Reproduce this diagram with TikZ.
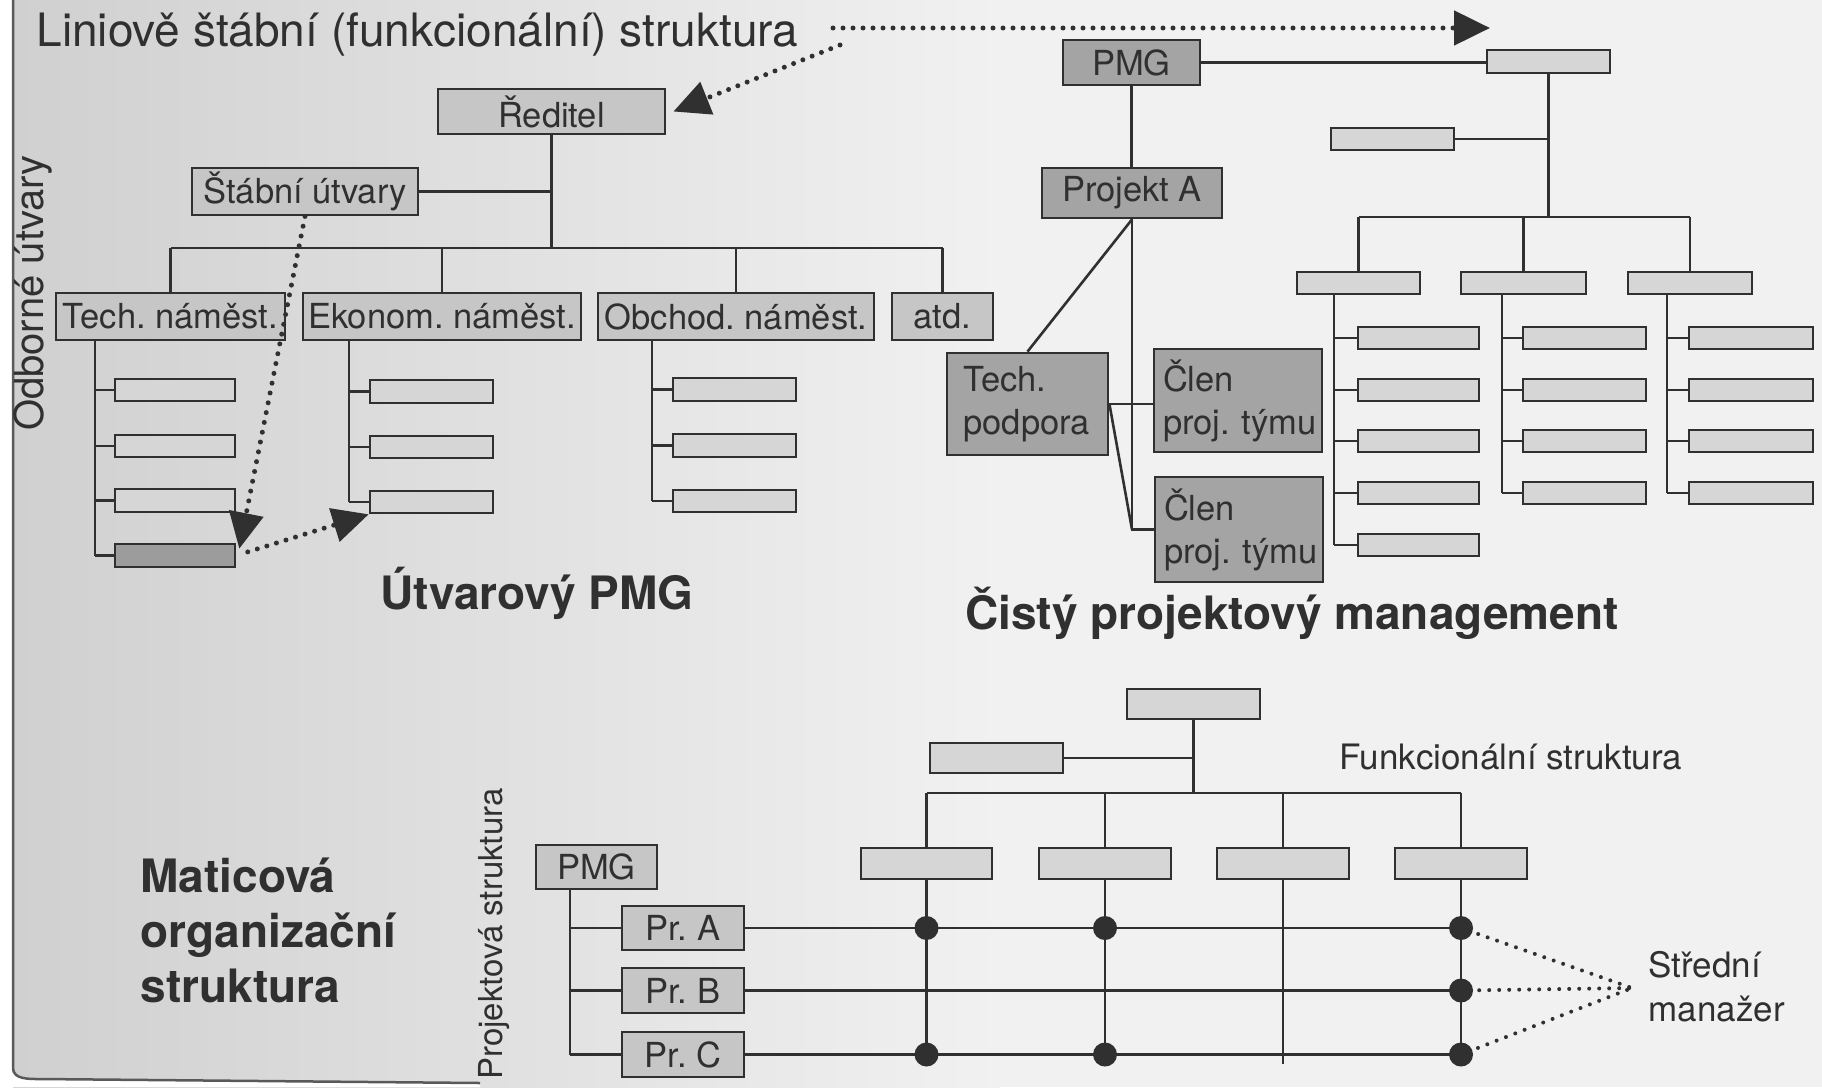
\documentclass[tikz,border=0pt]{standalone}
\usepackage{fontspec}
\setmainfont{TeX Gyre Heros}
\usetikzlibrary{arrows.meta}
\frenchspacing

\definecolor{ink}{HTML}{303030}
\definecolor{boxA}{HTML}{C6C6C6}
\definecolor{boxB}{HTML}{A4A4A4}
\definecolor{boxC}{HTML}{D6D6D6}
\definecolor{boxD}{HTML}{9C9C9C}
\definecolor{paperL}{HTML}{D0D0D0}
\definecolor{paperR}{HTML}{F1F1F1}

% box placed by its corners: style, name, x1, y1, x2, y2, text
\newcommand\putbox[7]{%
  \node[#1, minimum width={(#5)-(#3)}, minimum height={(#6)-(#4)}]
    (#2) at ({((#3)+(#5))/2},{((#4)+(#6))/2}) {#7};}

\tikzset{
  conn/.style={draw=ink, line width=2.6pt},
  boxbase/.style={draw=ink, line width=2.8pt, inner sep=0pt, text=ink,
    font=\fontsize{34.5}{43}\selectfont},
  lightbox/.style={boxbase, fill=boxA},
  darkbox/.style={boxbase, fill=boxB},
  blankbox/.style={boxbase, fill=boxC, line width=2.6pt},
  mdot/.style={circle, fill=ink, inner sep=0pt, minimum size=24pt},
  dotline/.style={draw=ink, line width=5pt, line cap=round, dash pattern=on 0pt off 10pt},
  dotarrow/.style={dotline, -{Triangle[length=36pt,width=34pt]}},
  heading/.style={text=ink, font=\bfseries\fontsize{46}{55}\selectfont},
  caption/.style={text=ink, font=\fontsize{46}{55}\selectfont},
  label/.style={text=ink, font=\fontsize{35}{44}\selectfont},
}

\begin{document}
\begin{tikzpicture}[x=1pt, y=-1pt]
% paper
\useasboundingbox (0,0) rectangle (1822,1087);
\fill[white] (0,0) rectangle (1822,1087);
\shade[left color=paperL, right color=paperR] (13,0) rectangle (1000,1087);
\fill[paperR] (1000,0) rectangle (1822,1087);
\fill[white] (0,1087) -- (0,0) -- (13,0) -- (13,1068) to[out=-90,in=180] (40,1079) -- (480,1083) -- (480,1087) -- cycle;
\draw[gray!70!black, line width=2.5pt] (13,0) -- (13,1068) to[out=-90,in=180] (40,1079) -- (480,1083);

% ---------- line and staff structure ----------
\node[caption, anchor=base west] (title) at (33,46) {Liniově štábní (funkcionální) struktura};
\node[caption, font=\fontsize{40}{48}\selectfont, rotate=90] (odb) at (33,293) {Odborné útvary};

\putbox{lightbox}{red}{438}{89}{665}{134}{Ředitel}
\putbox{lightbox}{stab}{192}{168}{418}{215}{Štábní útvary}
\putbox{lightbox}{tech}{56}{293}{285}{340}{Tech. náměst.}
\putbox{lightbox}{ekon}{303}{293}{581}{340}{Ekonom. náměst.}
\putbox{lightbox}{obch}{598}{293}{874}{340}{Obchod. náměst.}
\putbox{lightbox}{atd}{892}{293}{993}{340}{atd.}

\putbox{blankbox}{t1}{115}{379}{235}{401}{}
\putbox{blankbox}{t2}{115}{435}{235}{457}{}
\putbox{blankbox}{t3}{115}{489}{235}{512}{}
\putbox{blankbox, fill=boxD}{t4}{115}{544}{235}{567}{}
\putbox{blankbox}{e1}{370}{380}{493}{403}{}
\putbox{blankbox}{e2}{370}{436}{493}{458}{}
\putbox{blankbox}{e3}{370}{491}{493}{513}{}
\putbox{blankbox}{o1}{673}{378}{796}{401}{}
\putbox{blankbox}{o2}{673}{434}{796}{457}{}
\putbox{blankbox}{o3}{673}{490}{796}{512}{}

\coordinate (bus1) at (0,248);
\draw[conn] (red.south) -- (red.south |- bus1);
\draw[conn] (stab.east) -- (stab.east -| red.south);
\draw[conn] (tech.north |- bus1) -- (atd.north |- bus1);
\foreach \n in {tech,ekon,obch,atd} \draw[conn] (\n.north) -- (\n.north |- bus1);

\coordinate (tx) at (95,0);
\coordinate (ex) at (349,0);
\coordinate (ox) at (652,0);
\draw[conn] (tx |- tech.south) -- (tx |- t4.west);
\draw[conn] (ex |- ekon.south) -- (ex |- e3.west);
\draw[conn] (ox |- obch.south) -- (ox |- o3.west);
\foreach \n in {t1,t2,t3,t4} \draw[conn] (tx |- \n.west) -- (\n.west);
\foreach \n in {e1,e2,e3} \draw[conn] (ex |- \n.west) -- (\n.west);
\foreach \n in {o1,o2,o3} \draw[conn] (ox |- \n.west) -- (\n.west);

\node[heading] (utv) at (537,593) {Útvarový PMG};

% dotted pointers
\coordinate (a1s) at (833,28);
\coordinate (a1e) at (1490,28);
\coordinate (a2s) at (840,45);
\draw[dotarrow] (a1s) -- (a1e);
\draw[dotarrow] (a2s) -- ([xshift=7pt]red.east);
\draw[dotarrow] (stab.south) -- ([xshift=3pt,yshift=-6pt]t4.north east);
\draw[dotarrow, shorten <=12pt] (t4.east) -- (e3.south west);

% ---------- pure project management ----------
\putbox{darkbox}{pmg}{1063}{40}{1200}{85}{PMG}
\putbox{darkbox}{prA}{1042}{168}{1222}{218}{Projekt A}
\putbox{darkbox, align=left, text width=128pt}{tp}{947}{353}{1108}{455}{Tech.\\podpora}
\putbox{darkbox, align=left, text width=150pt}{cl1}{1154}{349}{1322}{452}{Člen\\proj.~týmu}
\putbox{darkbox, align=left, text width=150pt}{cl2}{1155}{477}{1323}{582}{Člen\\proj.~týmu}

\putbox{blankbox}{f0}{1487}{50}{1610}{73}{}
\putbox{blankbox}{fs}{1331}{128}{1454}{150}{}
\putbox{blankbox}{fa}{1297}{272}{1420}{294}{}
\putbox{blankbox}{fb}{1461}{272}{1586}{294}{}
\putbox{blankbox}{fc}{1628}{272}{1752}{294}{}
\foreach \r/\y in {1/338,2/390,3/441,4/493} {
  \putbox{blankbox}{la\r}{1358}{\y-11}{1479}{\y+11}{}
  \putbox{blankbox}{lb\r}{1523}{\y-11}{1646}{\y+11}{}
  \putbox{blankbox}{lc\r}{1689}{\y-11}{1813}{\y+11}{}
}
\putbox{blankbox}{la5}{1358}{534}{1479}{556}{}

\draw[conn] (pmg.east) -- (pmg.east -| f0.west);
\coordinate (bus2) at (0,217);
\draw[conn] (f0.south) -- (f0.south |- bus2);
\draw[conn] (fs.east) -- (fs.east -| f0.south);
\draw[conn] (fa.north |- bus2) -- (fc.north |- bus2);
\foreach \n in {fa,fb,fc} \draw[conn] (\n.north) -- (\n.north |- bus2);

\coordinate (ca) at (1334,0);
\coordinate (cb) at (1502,0);
\coordinate (cc) at (1667,0);
\draw[conn] (ca |- fa.south) -- (ca |- la5.west);
\draw[conn] (cb |- fb.south) -- (cb |- lb4.west);
\draw[conn] (cc |- fc.south) -- (cc |- lc4.west);
\foreach \r in {1,...,5} \draw[conn] (ca |- la\r.west) -- (la\r.west);
\foreach \r in {1,...,4} {
  \draw[conn] (cb |- lb\r.west) -- (lb\r.west);
  \draw[conn] (cc |- lc\r.west) -- (lc\r.west);
}

\draw[conn] (pmg.south) -- (pmg.south |- prA.north);
\draw[conn] (prA.south) -- (tp.north);
\draw[conn] (prA.south) -- (prA.south |- cl2.west) -- (cl2.west);
\draw[conn] (tp.east) -- (cl1.west |- tp.east);
\draw[conn] (tp.east) -- (prA.south |- cl2.west);

\node[heading] (cisty) at (1292,613) {Čistý projektový management};

% ---------- matrix organisation ----------
\node[heading, align=left, anchor=west] (mat) at (137,930) {Maticová\\organizační\\struktura};
\node[text=ink, font=\fontsize{33}{40}\selectfont, rotate=90] (projs) at (494,934) {Projektová struktura};

\putbox{lightbox}{pmg2}{536}{845}{657}{889}{PMG}
\putbox{lightbox}{pa}{622}{906}{744}{950}{Pr. A}
\putbox{lightbox}{pb}{622}{968}{744}{1013}{Pr. B}
\putbox{lightbox}{pc}{622}{1032}{744}{1077}{Pr. C}

\putbox{blankbox}{g0}{1127}{689}{1260}{719}{}
\putbox{blankbox}{gs}{930}{743}{1063}{773}{}
\putbox{blankbox}{g1}{861}{848}{992}{879}{}
\putbox{blankbox}{g2}{1039}{848}{1171}{879}{}
\putbox{blankbox}{g3}{1217}{848}{1349}{879}{}
\putbox{blankbox}{g4}{1395}{848}{1527}{879}{}

\node[label, anchor=west] (funk) at (1336,757) {Funkcionální struktura};
\node[label, anchor=west, align=left] (stred) at (1645,987) {Střední\\manažer};

\coordinate (bus3) at (0,793);
\draw[conn] (g0.south) -- (g0.south |- bus3);
\draw[conn] (gs.east) -- (gs.east -| g0.south);
\draw[conn] (g1.north |- bus3) -- (g4.north |- bus3);
\foreach \n in {g1,g2,g3,g4} \draw[conn] (\n.north) -- (\n.north |- bus3);

\coordinate (px) at (570,0);
\draw[conn] (px |- pmg2.south) -- (px |- pc.west);
\foreach \n in {pa,pb,pc} {
  \draw[conn] (px |- \n.west) -- (\n.west);
  \draw[conn] (\n.east) -- (\n.east -| g4.south);
}
\coordinate (bot) at (0,1064);
\draw[conn] (g1.south) -- (g1.south |- bot);
\draw[conn] (g2.south) -- (g2.south |- pc.east);
\draw[conn] (g3.south) -- (g3.south |- bot);
\draw[conn] (g4.south) -- (g4.south |- pc.east);

\node[mdot] (d1a) at (g1.south |- pa.east) {};
\node[mdot] (d2a) at (g2.south |- pa.east) {};
\node[mdot] (d4a) at (g4.south |- pa.east) {};
\node[mdot] (d4b) at (g4.south |- pb.east) {};
\node[mdot] (d1c) at (g1.south |- pc.east) {};
\node[mdot] (d2c) at (g2.south |- pc.east) {};
\node[mdot] (d4c) at (g4.south |- pc.east) {};

\coordinate (sm) at (1632,988);
\draw[dotline, line width=4pt, shorten <=6pt] (d4a) -- (sm);
\draw[dotline, line width=4pt, shorten <=6pt] (d4b) -- (sm);
\draw[dotline, line width=4pt, shorten <=6pt] (d4c) -- (sm);
\end{tikzpicture}
\end{document}
